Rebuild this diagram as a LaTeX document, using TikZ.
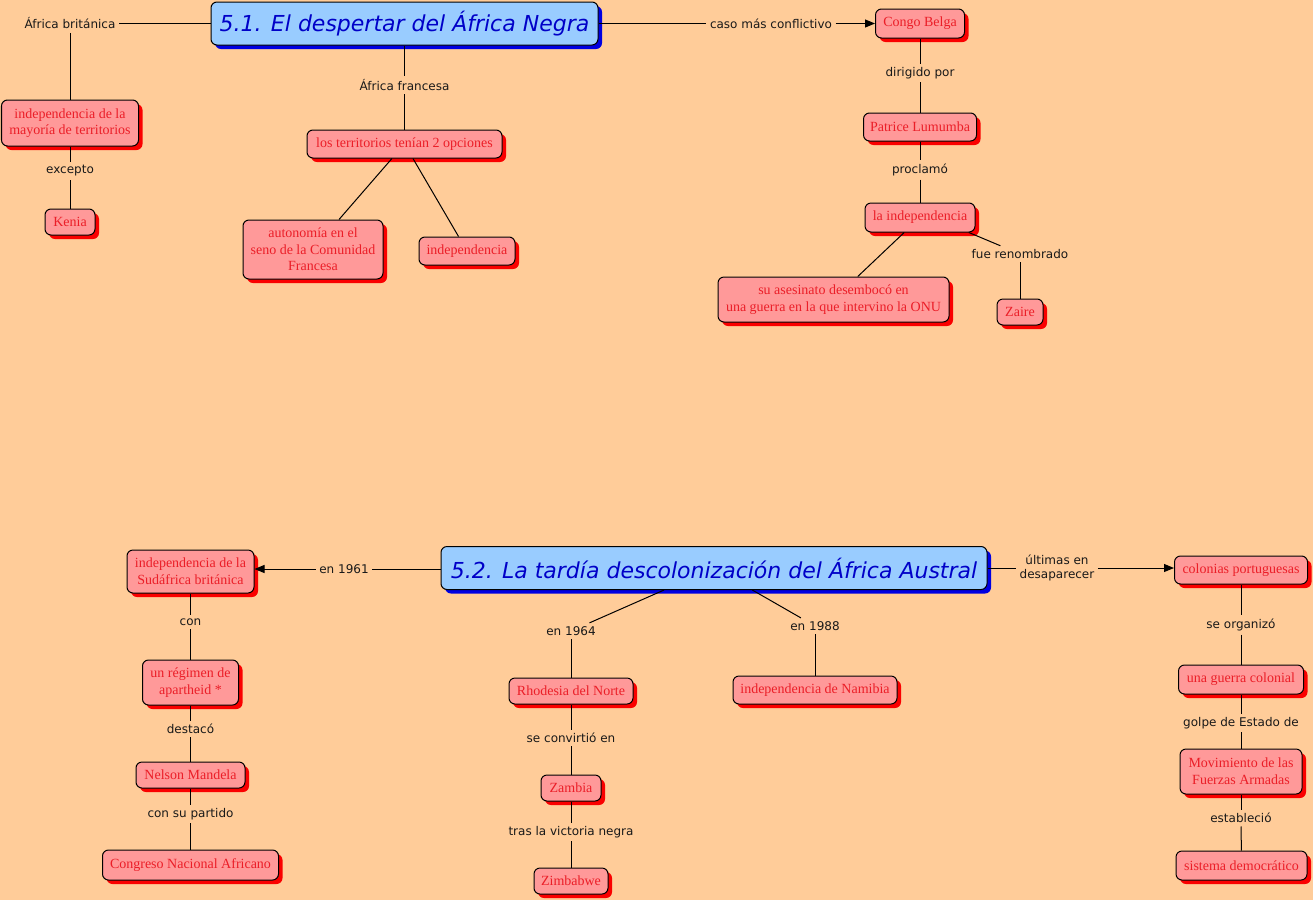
\documentclass[tikz,border=0pt]{standalone}
\usepackage{fontspec}
\setmainfont{Liberation Serif}
\newfontfamily\labfont{DejaVu Sans}
\usetikzlibrary{shadows,arrows.meta}
\definecolor{bg}{RGB}{255,204,153}
\definecolor{nodefill}{RGB}{255,153,153}
\definecolor{nodetext}{RGB}{235,30,40}
\definecolor{shadowred}{RGB}{250,0,0}
\definecolor{titlefill}{RGB}{153,204,255}
\definecolor{titletext}{RGB}{0,0,200}
\definecolor{shadowblue}{RGB}{0,0,225}
\begin{document}
\begin{tikzpicture}[x=0.75pt,y=-0.75pt,
  sz/.style 2 args={minimum width=#1*0.75pt, minimum height=#2*0.75pt},
  cnode/.style={draw=black, line width=0.75pt, rounded corners=4.5pt, fill=nodefill,
    text=nodetext, font=\fontsize{10.5}{12.5}\selectfont, align=center, inner sep=0pt,
    drop shadow={shadow xshift=3pt, shadow yshift=-3pt, fill=shadowred, opacity=1}},
  tnode/.style={draw=black, line width=0.75pt, rounded corners=4.5pt, fill=titlefill,
    text=titletext, font=\labfont\itshape\fontsize{16.5}{19}\selectfont, inner sep=0pt,
    drop shadow={shadow xshift=3pt, shadow yshift=-3pt, fill=shadowblue, opacity=1}},
  lab/.style={font=\labfont\fontsize{9}{10.5}\selectfont, text=black!90, align=center, inner sep=2.5pt},
  conn/.style={draw=black, line width=0.75pt},
  arr/.style={conn, -{Triangle[length=7.5pt,width=6pt]}}
]
\useasboundingbox[fill=bg] (0,0) rectangle (1313,900);

% ---------- Top section ----------
\node[tnode, sz={387}{43}] (t1) at (404.5,23.5) {5.1. El despertar del África Negra};
\node[lab] (ab) at (70,23.5) {África británica};
\node[cnode, sz={137}{46}] (im) at (70,123) {independencia de la\\mayoría de territorios};
\node[lab] (exc) at (70,171) {excepto};
\node[cnode, sz={50}{26}] (ke) at (70,222) {Kenia};
\node[lab] (af) at (404.5,85) {África francesa};
\node[cnode, sz={195}{28}] (lt) at (404.5,144) {los territorios tenían 2 opciones};
\node[cnode, sz={140}{59}] (au) at (313,249.5) {autonomía en el\\seno de la Comunidad\\Francesa};
\node[cnode, sz={96}{28}] (in) at (467,251) {independencia};
\node[lab] (cmc) at (771,23.5) {caso más conflictivo};
\node[cnode, sz={89}{29}] (cb) at (920,23.5) {Congo Belga};
\node[lab] (dp) at (920,73) {dirigido por};
\node[cnode, sz={113}{28}] (pl) at (920,127) {Patrice Lumumba};
\node[lab] (pr) at (920,170) {proclamó};
\node[cnode, sz={110}{29}] (li) at (920,217.5) {la independencia};
\node[cnode, sz={231}{45}] (sa) at (833.5,299.5) {su asesinato desembocó en\\una guerra en la que intervino la ONU};
\node[lab] (fr) at (1020,254) {fue renombrado};
\node[cnode, sz={46}{26}] (za) at (1020,312) {Zaire};

\draw[conn] (t1) -- (ab);
\draw[conn] (ab) -- (im);
\draw[conn] (im) -- (exc);
\draw[conn] (exc) -- (ke);
\draw[conn] (t1) -- (af);
\draw[conn] (af) -- (lt);
\draw[conn] (lt) -- (au);
\draw[conn] (lt) -- (in);
\draw[conn] (t1) -- (cmc);
\draw[arr] (cmc) -- (cb);
\draw[conn] (cb) -- (dp);
\draw[conn] (dp) -- (pl);
\draw[conn] (pl) -- (pr);
\draw[conn] (pr) -- (li);
\draw[conn] (li) -- (sa);
\draw[conn] ([xshift=-5pt]li.south east) -- (fr);
\draw[conn] (fr) -- (za);

% ---------- Bottom section ----------
\node[tnode, sz={546}{43}] (t2) at (714,568) {5.2. La tardía descolonización del África Austral};
\node[lab] (e61) at (344,569) {en 1961};
\node[cnode, sz={127}{43}] (su) at (190.5,571.5) {independencia de la\\Sudáfrica británica};
\node[lab] (con) at (190.5,622) {con};
\node[cnode, sz={96}{45}] (ra) at (190.5,682.5) {un régimen de\\apartheid *};
\node[lab] (de) at (190.5,729) {destacó};
\node[cnode, sz={109}{26}] (nm) at (190.5,775) {Nelson Mandela};
\node[lab] (csp) at (190.5,814) {con su partido};
\node[cnode, sz={176}{30}] (cna) at (190.5,865) {Congreso Nacional Africano};
\node[lab] (e64) at (571,631) {en 1964};
\node[cnode, sz={124}{26}] (rn) at (571,691) {Rhodesia del Norte};
\node[lab] (sce) at (571,738) {se convirtió en};
\node[cnode, sz={60}{26}] (zam) at (571,788) {Zambia};
\node[lab] (tvn) at (571,832) {tras la victoria negra};
\node[cnode, sz={74}{26}] (zim) at (571,881) {Zimbabwe};
\node[lab] (e88) at (815,626) {en 1988};
\node[cnode, sz={164}{28}] (nam) at (815,690) {independencia de Namibia};
\node[lab] (ud) at (1057,568) {últimas en\\desaparecer};
\node[cnode, sz={133}{28}] (cp) at (1241,570) {colonias portuguesas};
\node[lab] (so) at (1241,625) {se organizó};
\node[cnode, sz={125}{29}] (gc) at (1241,679.5) {una guerra colonial};
\node[lab] (ged) at (1241,723) {golpe de Estado de};
\node[cnode, sz={122}{45}] (mfa) at (1241,771.5) {Movimiento de las\\Fuerzas Armadas};
\node[lab] (est) at (1241,818) {estableció};
\node[cnode, sz={131}{29}] (sd) at (1241.5,865.5) {sistema democrático};

\draw[conn] (t2.west |- e61) -- (e61);
\draw[arr] (e61) -- (su.east |- e61);
\draw[conn] (su) -- (con);
\draw[conn] (con) -- (ra);
\draw[conn] (ra) -- (de);
\draw[conn] (de) -- (nm);
\draw[conn] (nm) -- (csp);
\draw[conn] (csp) -- (cna);
\draw[conn] (t2) -- (e64);
\draw[conn] (e64) -- (rn);
\draw[conn] (rn) -- (sce);
\draw[conn] (sce) -- (zam);
\draw[conn] (zam) -- (tvn);
\draw[conn] (tvn) -- (zim);
\draw[conn] (t2) -- (e88);
\draw[conn] (e88) -- (nam);
\draw[conn] (t2.east |- ud) -- (ud);
\draw[arr] (ud) -- (cp.west |- ud);
\draw[conn] (cp) -- (so);
\draw[conn] (so) -- (gc);
\draw[conn] (gc) -- (ged);
\draw[conn] (ged) -- (mfa);
\draw[conn] (mfa) -- (est);
\draw[conn] (est) -- (sd);
\end{tikzpicture}
\end{document}
